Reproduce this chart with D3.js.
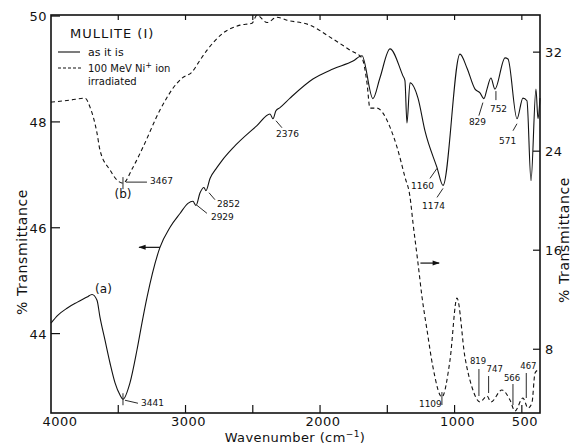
<!DOCTYPE html>
<html>
<head>
<meta charset="utf-8">
<script src="https://cdn.jsdelivr.net/npm/d3@7"></script>
<style>
body { margin: 0; background: #fff; }
text { font-family: "DejaVu Sans", sans-serif; fill: #111; }
</style>
</head>
<body>
<div id="chart-area"></div>
<script>
// spectrum (a): as it is -> left axis
var solidWn = [4000,3948,3881,3807,3732,3695,3658,3636,3599,3561,3524,3487,3465,3413,3361,3324,3286,3190,3115,3041,2982,2945,2922,2892,2863,2848,2818,2766,2729,2647,2469,2372,2350,2328,2298,2223,2053,1904,1755,1688,1607,1555,1480,1384,1369,1354,1331,1272,1220,1131,1086,960,908,848,811,782,759,730,700,625,603,536,492,462,432,395,380,365];
var solidT  = [44.20,44.35,44.48,44.59,44.69,44.74,44.63,44.31,43.88,43.44,43.07,42.84,42.76,43.07,43.69,44.20,44.69,45.63,46.01,46.27,46.46,46.50,46.42,46.66,46.76,46.70,46.93,47.14,47.27,47.51,47.93,48.15,48.06,48.21,48.27,48.45,48.81,49.00,49.15,49.25,48.44,48.83,49.38,48.87,48.78,47.98,48.74,48.45,47.83,47.14,46.80,49.28,49.02,48.62,48.55,48.44,48.62,48.83,48.62,49.21,49.19,48.06,48.45,48.40,46.89,48.62,48.06,48.45];

// spectrum (b): 100 MeV Ni+ irradiated -> right axis
var dashWn = [4000,3859,3747,3710,3658,3636,3561,3509,3465,3390,3316,3190,3063,3026,2952,2892,2840,2722,2595,2506,2469,2394,2320,2246,2075,1926,1777,1688,1651,1629,1577,1532,1480,1428,1369,1331,1309,1272,1242,1205,1161,1094,1034,982,923,871,811,759,730,648,588,551,492,454,425,402,380];
var dashT  = [27.96,28.12,28.28,27.56,25.46,24.09,22.47,21.66,21.42,22.71,24.33,27.32,29.50,29.90,30.39,31.36,32.16,33.53,34.18,34.34,34.98,34.40,34.82,34.58,34.18,33.21,32.16,31.51,29.50,27.48,27.48,27.07,25.94,24.33,21.91,20.29,18.19,14.96,12.22,9.56,6.57,4.14,7.12,12.13,7.37,4.95,3.74,4.22,3.74,4.71,3.90,3.01,4.06,3.25,3.66,6.08,6.32];

var xTicks = [3500,3000,2500,2000,1500,1000,500];
var xLabels = [4000,3000,2000,1000,500];
var leftTicks = [44,46,48,50];
var rightTicks = [8,16,24,32];

// peak labels (wavenumber of the feature they point at)
var solidPeaks = ["3441","2929","2852","2376","1160","1174","829","752","571"];
var solidPeakWn = [3465,2945,2848,2350,1131,1086,782,700,536];
var dashPeaks = ["3467","1109","819","747","566","467"];
var dashPeakWn = [3465,1094,819,747,566,467];

var W = 580, H = 444;
var margin = {top:15, right:40, bottom:31, left:51};

var svg = d3.select("#chart-area").append("svg")
    .attr("width", W).attr("height", H);

var x = d3.scaleLinear().domain([4000, 365]).range([margin.left, W - margin.right]);
var yL = d3.scaleLinear().domain([42.5, 50.02]).range([H - margin.bottom, margin.top]);
var yR = d3.scaleLinear().domain([2.85, 35.0]).range([H - margin.bottom, margin.top]);

var x0 = margin.left, x1 = W - margin.right, y0 = margin.top, y1 = H - margin.bottom;

// frame
svg.append("rect")
    .attr("x", x0).attr("y", y0)
    .attr("width", x1 - x0).attr("height", y1 - y0)
    .attr("fill", "none").attr("stroke", "#111").attr("stroke-width", 1.6);

// bottom & top ticks
svg.selectAll(".xt").data(xTicks).enter().append("line")
    .attr("x1", d => x(d)).attr("x2", d => x(d))
    .attr("y1", y1).attr("y2", y1 - 8)
    .attr("stroke", "#111").attr("stroke-width", 1.2);
svg.selectAll(".xtt").data(xTicks).enter().append("line")
    .attr("x1", d => x(d)).attr("x2", d => x(d))
    .attr("y1", y0).attr("y2", y0 + 5)
    .attr("stroke", "#111").attr("stroke-width", 1.2);
svg.selectAll(".xl").data(xLabels).enter().append("text")
    .attr("x", d => x(d) + (d == 4000 ? 9 : 3))
    .attr("y", y1 + 13)
    .attr("text-anchor", "middle")
    .attr("font-size", "13px")
    .attr("letter-spacing", "0.5px")
    .text(d => d);

// left axis
svg.selectAll(".lt").data(leftTicks).enter().append("line")
    .attr("x1", x0).attr("x2", x0 + 9)
    .attr("y1", d => yL(d)).attr("y2", d => yL(d))
    .attr("stroke", "#111").attr("stroke-width", 1.2);
svg.selectAll(".ll").data(leftTicks).enter().append("text")
    .attr("x", x0 - 4).attr("y", d => yL(d) + 5)
    .attr("text-anchor", "end")
    .attr("font-size", "13px")
    .attr("letter-spacing", "0.5px")
    .text(d => d);

// right axis
svg.selectAll(".rt").data(rightTicks).enter().append("line")
    .attr("x1", x1 - 7).attr("x2", x1)
    .attr("y1", d => yR(d)).attr("y2", d => yR(d))
    .attr("stroke", "#111").attr("stroke-width", 1.2);
svg.selectAll(".rl").data(rightTicks).enter().append("text")
    .attr("x", x1 + 5).attr("y", d => yR(d) + 5)
    .attr("font-size", "13px")
    .attr("letter-spacing", "0.5px")
    .text(d => d);

// axis titles
svg.append("text")
    .attr("transform", "translate(27," + 252 + ") rotate(-90)")
    .attr("text-anchor", "middle")
    .attr("font-size", "14px")
    .attr("letter-spacing", "0.6px")
    .text("% Transmittance");
svg.append("text")
    .attr("transform", "translate(569," + 240 + ") rotate(-90)")
    .attr("text-anchor", "middle")
    .attr("font-size", "14px")
    .attr("letter-spacing", "0.6px")
    .text("% Transmittance");
var xt = svg.append("text")
    .attr("x", 295).attr("y", 442)
    .attr("text-anchor", "middle")
    .attr("font-size", "13px")
    .attr("letter-spacing", "0.4px");
xt.append("tspan").text("Wavenumber (cm");
xt.append("tspan").attr("dy", -5).attr("font-size", "9px").text("\u22121");
xt.append("tspan").attr("dy", 5).text(")");

// curves
var solid = solidWn.map((w, i) => [w, solidT[i]]);
var dashed = dashWn.map((w, i) => [w, dashT[i]]);

var lineL = d3.line().x(d => x(d[0])).y(d => yL(d[1])).curve(d3.curveMonotoneX);
var lineR = d3.line().x(d => x(d[0])).y(d => yR(d[1])).curve(d3.curveMonotoneX);

svg.append("path").datum(solid)
    .attr("d", lineL)
    .attr("fill", "none").attr("stroke", "#111").attr("stroke-width", 1.1);
svg.append("path").datum(dashed)
    .attr("d", lineR)
    .attr("fill", "none").attr("stroke", "#111").attr("stroke-width", 1.1)
    .attr("stroke-dasharray", "4,3");

// peak annotations: leader offsets [lx1, ly1, lx2, ly2, tx, ty] relative to the curve point
var solidLay = [
    [2, 1, 15, 4, 18, 7],
    [4, 4, 14, 12, 18, 19],
    [3, 2, 9, 9, 11, 16],
    [3, 2, 9, 9, 3, 18],
    [0, 1, -7, 11, -26, 22],
    [0, 3, -6, 12, -21, 24],
    [-1, 4, -5, 17, -15, 26],
    [1, 2, 1, 11, -5, 23],
    [0, 5, -4, 12, -18, 25]
];
var ann = svg.append("g").attr("font-size", "9px");
solidPeaks.forEach((lab, i) => {
    var w = solidPeakWn[i];
    var px = x(w);
    var py = yL(solidT[solidWn.indexOf(w)]);
    var o = solidLay[i];
    ann.append("line")
        .attr("x1", px + o[0]).attr("y1", py + o[1])
        .attr("x2", px + o[2]).attr("y2", py + o[3])
        .attr("stroke", "#111").attr("stroke-width", 0.9);
    ann.append("text").attr("x", px + o[4]).attr("y", py + o[5]).text(lab);
});
// tick mark on the 3441 minimum
ann.append("line")
    .attr("x1", x(3465)).attr("x2", x(3465))
    .attr("y1", yL(42.76) - 6).attr("y2", yL(42.76) + 6)
    .attr("stroke", "#111").attr("stroke-width", 0.9);

// dashed curve labels
var p0 = [x(dashPeakWn[0]), yR(21.42)];
ann.append("line").attr("x1", p0[0]).attr("x2", p0[0]).attr("y1", p0[1] - 6).attr("y2", p0[1] + 6)
    .attr("stroke", "#111").attr("stroke-width", 0.9);
ann.append("line").attr("x1", p0[0] + 3).attr("x2", p0[0] + 24).attr("y1", p0[1] - 1).attr("y2", p0[1] - 1)
    .attr("stroke", "#111").attr("stroke-width", 0.9);
ann.append("text").attr("x", p0[0] + 27).attr("y", p0[1] + 1).text(dashPeaks[0]);

var p1 = [x(dashPeakWn[1]), yR(4.14)];
ann.append("line").attr("x1", p1[0]).attr("x2", p1[0]).attr("y1", p1[1] - 5).attr("y2", p1[1] + 8)
    .attr("stroke", "#111").attr("stroke-width", 0.9);
ann.append("text").attr("x", p1[0] - 23).attr("y", p1[1] + 10).text(dashPeaks[1]);

// [line top, line bottom, text baseline, text dx]
var dLay = [[369, 396, 364, -9], [376, 393, 372, -2], [384, 405, 381, -9], [373, 398, 369, -6]];
dashPeaks.slice(2).forEach((lab, i) => {
    var px = x(dashPeakWn[i + 2]);
    var o = dLay[i];
    ann.append("line").attr("x1", px).attr("x2", px).attr("y1", o[0]).attr("y2", o[1])
        .attr("stroke", "#111").attr("stroke-width", 0.9);
    ann.append("text").attr("x", px + o[3]).attr("y", o[2])
        .attr("font-size", "8.5px").text(lab);
});

// (a) and (b)
svg.append("text").attr("x", x(3610)).attr("y", yL(44.74) - 1)
    .attr("text-anchor", "middle").attr("font-size", "12px").text("(a)");
svg.append("text").attr("x", x(3465)).attr("y", yR(21.42) + 15)
    .attr("text-anchor", "middle").attr("font-size", "12px").text("(b)");

// axis arrows
var defs = svg.append("defs");
defs.append("marker").attr("id", "ah")
    .attr("viewBox", "0 0 10 10").attr("refX", 9).attr("refY", 5)
    .attr("markerWidth", 7).attr("markerHeight", 6)
    .attr("orient", "auto")
    .append("path").attr("d", "M0,1.5 L10,5 L0,8.5 Z").attr("fill", "#111");

svg.append("line")
    .attr("x1", x(3190)).attr("x2", x(3345))
    .attr("y1", yL(45.63)).attr("y2", yL(45.63))
    .attr("stroke", "#111").attr("stroke-width", 1.2)
    .attr("marker-end", "url(#ah)");
svg.append("line")
    .attr("x1", x(1254)).attr("x2", x(1115))
    .attr("y1", yR(14.96)).attr("y2", yR(14.96))
    .attr("stroke", "#111").attr("stroke-width", 1.2)
    .attr("marker-end", "url(#ah)");

// legend
var leg = svg.append("g");
leg.append("text").attr("x", 70).attr("y", 38)
    .attr("font-size", "13px").attr("letter-spacing", "1px").text("MULLITE (I)");
leg.append("line").attr("x1", 58).attr("x2", 80).attr("y1", 52).attr("y2", 52)
    .attr("stroke", "#111").attr("stroke-width", 1.1);
leg.append("text").attr("x", 88).attr("y", 56).attr("font-size", "11px").text("as it is");
leg.append("line").attr("x1", 58).attr("x2", 82).attr("y1", 68).attr("y2", 68)
    .attr("stroke", "#111").attr("stroke-width", 1.1).attr("stroke-dasharray", "3,2");
var l2 = leg.append("text").attr("x", 88).attr("y", 72).attr("font-size", "10px");
l2.append("tspan").text("100 MeV  Ni");
l2.append("tspan").attr("dy", -4).attr("font-size", "8px").text("+");
l2.append("tspan").attr("dy", 4).text(" ion");
leg.append("text").attr("x", 88).attr("y", 85).attr("font-size", "10px").text("irradiated");
</script>
</body>
</html>
